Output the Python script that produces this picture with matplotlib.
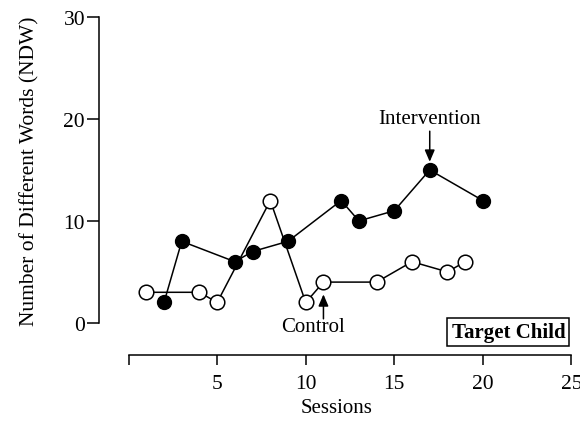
import matplotlib
matplotlib.use("Agg")
import matplotlib.pyplot as plt

plt.rcParams['font.family'] = ['Liberation Serif', 'DejaVu Serif']

# Data
control_sessions = [1, 4, 5, 8, 10, 11, 14, 16, 18, 19]
control_ndw = [3, 3, 2, 12, 2, 4, 4, 6, 5, 6]
intervention_sessions = [2, 3, 6, 7, 9, 12, 13, 15, 17, 20]
intervention_ndw = [2, 8, 6, 7, 8, 12, 10, 11, 15, 12]
x_ticks = [0, 5, 10, 15, 20, 25]
x_ticklabels = ['', '5', '10', '15', '20', '25']
y_ticks = [0, 10, 20, 30]

fig = plt.figure(figsize=(5.8, 4.27), dpi=100)
ax = fig.add_axes([99/580, (427-356)/427, (575-99)/580, (356-18)/427])

lw = 1.1
ax.plot(intervention_sessions, intervention_ndw, color='black', lw=lw, marker='o',
        markersize=10, markerfacecolor='black', markeredgecolor='black', zorder=3)
ax.plot(control_sessions, control_ndw, color='black', lw=lw, marker='o',
        markersize=10.5, markerfacecolor='white', markeredgecolor='black',
        markeredgewidth=1.1, zorder=4)

ax.set_xlim(-1.67, 25.2)
ax.set_ylim(-3.15, 30)

for s in ['top', 'right']:
    ax.spines[s].set_visible(False)
ax.spines['left'].set_bounds(0, 30)
ax.spines['bottom'].set_bounds(0, 25)
for s in ['left', 'bottom']:
    ax.spines[s].set_linewidth(1.1)

ax.set_xticks(x_ticks)
ax.set_xticklabels(x_ticklabels)
ax.set_yticks(y_ticks)
ax.tick_params(axis='y', direction='out', length=8.5, width=1.1, labelsize=15.5, pad=1.5)
ax.tick_params(axis='x', direction='out', length=7, width=1.1, labelsize=15.5, pad=7)

ax.set_xlabel('Sessions', fontsize=15, labelpad=3)
ax.set_ylabel('Number of Different Words (NDW)', fontsize=15.5, labelpad=17)
ax.yaxis.label.set_y(0.547)

arrowprops = dict(arrowstyle='-|>,head_length=0.7,head_width=0.3', color='black', lw=1.1,
                  shrinkA=0, shrinkB=0)
ax.text(17, 20.05, 'Intervention', ha='center', va='center', fontsize=15)
ax.annotate('', xy=(17, 15.8), xytext=(17, 18.8), arrowprops=arrowprops)
ax.text(10.4, -0.4, 'Control', ha='center', va='center', fontsize=15)
ax.annotate('', xy=(11, 2.8), xytext=(11, 0.4), arrowprops=arrowprops)

ax.text(21.44, -0.88, 'Target Child', ha='center', va='center', fontsize=15,
        fontweight='bold',
        bbox=dict(boxstyle='square,pad=0.2', facecolor='white', edgecolor='black', lw=1.1))

fig.savefig('out.png', dpi=100)
